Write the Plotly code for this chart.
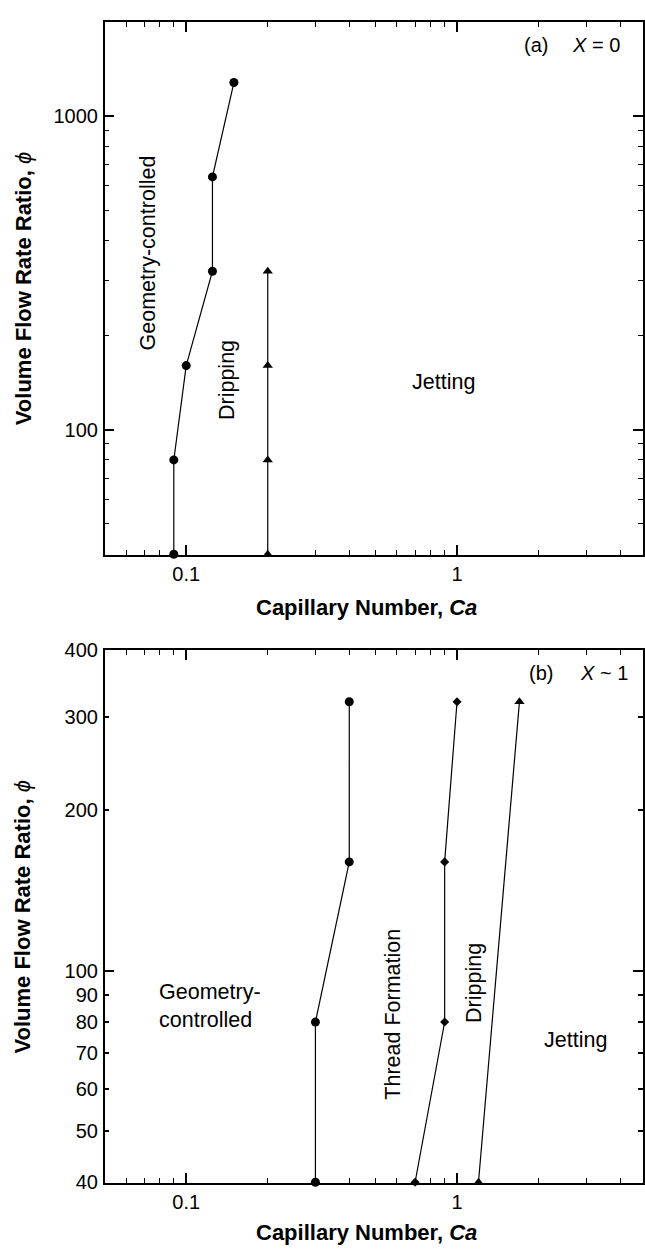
import numpy as np
import plotly.graph_objects as go

# ---------------- data ----------------
# panel (a)  X = 0
a_geo_ca = [0.09, 0.09, 0.1, 0.125, 0.125, 0.15]
a_geo_phi = [40, 80, 160, 320, 640, 1280]
a_jet_ca = [0.2, 0.2, 0.2, 0.2]
a_jet_phi = [40, 80, 160, 320]

# panel (b)  X ~ 1
b_geo_ca = [0.3, 0.3, 0.4, 0.4]
b_geo_phi = [40, 80, 160, 320]
b_thr_ca = [0.7, 0.9, 0.9, 1.0]
b_thr_phi = [40, 80, 160, 320]
b_jet_ca = [1.2, 1.7]
b_jet_phi = [40, 320]

x_major = [0.1, 1]
x_major_text = ["0.1", "1"]
x_minor = [0.06, 0.07, 0.08, 0.09, 0.2, 0.3, 0.4, 0.5, 0.6, 0.7, 0.8, 0.9, 2, 3, 4]
ya_major = [100, 1000]
ya_major_text = ["100", "1000"]
ya_minor = [50, 60, 70, 80, 90, 200, 300, 400, 500, 600, 700, 800, 900]
yb_major = [40, 50, 60, 70, 80, 90, 100, 200, 300, 400]
yb_major_text = ["40", "50", "60", "70", "80", "90", "100", "200", "300", "400"]
yb_long = [100]

# ---------------- layout geometry ----------------
W, H = 645, 1255
FONT = "Liberation Sans, Arial, Helvetica, sans-serif"
EPS = 0.0015  # tiny padding so edge markers stay drawn


def px(x):
    return x / W


def py(y):
    return 1 - y / H


fig = go.Figure()

line = dict(color="black", width=1.2)


def add(xv, yv, sym, size, xa, ya):
    fig.add_trace(go.Scatter(
        x=xv, y=yv, mode="lines+markers", xaxis=xa, yaxis=ya,
        line=line, marker=dict(symbol=sym, size=size, color="black"),
        cliponaxis=False, showlegend=False, hoverinfo="skip"))


add(a_geo_ca, a_geo_phi, "circle", 9, "x", "y")
add(a_jet_ca, a_jet_phi, "triangle-up", 9, "x", "y")
add(b_geo_ca, b_geo_phi, "circle", 9, "x2", "y2")
add(b_thr_ca, b_thr_phi, "diamond", 7, "x2", "y2")
add(b_jet_ca, b_jet_phi, "triangle-up", 9, "x2", "y2")

xdom = [px(105), 1.0]
xrange = [np.log10(0.05), np.log10(4.86)]

common_x = dict(
    type="log", range=xrange, domain=xdom,
    tickmode="array", tickvals=x_major, ticktext=x_major_text,
    ticks="inside", ticklen=10, tickwidth=1.5, tickcolor="black",
    minor=dict(tickmode="array", tickvals=x_minor, ticks="inside",
               ticklen=5, tickwidth=1, tickcolor="black", showgrid=False),
    showline=True, linewidth=2, linecolor="black", mirror="ticks",
    showgrid=False, zeroline=False,
    tickfont=dict(family=FONT, size=20, color="black"),
    ticklabelstandoff=0,
)

common_y = dict(
    type="log",
    ticks="inside", tickwidth=1.5, tickcolor="black",
    showline=True, linewidth=1.5, linecolor="black", mirror="ticks",
    showgrid=False, zeroline=False,
    tickfont=dict(family=FONT, size=20, color="black"),
    ticklabelstandoff=1,
)

fig.update_layout(
    width=W, height=H,
    margin=dict(l=0, r=0, t=0, b=0),
    paper_bgcolor="white", plot_bgcolor="white",
    font=dict(family=FONT, color="black"),
    xaxis=dict(anchor="y", **common_x),
    xaxis2=dict(anchor="y2", **common_x),
    yaxis=dict(anchor="x", domain=[py(553), py(11)],
               range=[np.log10(40) - EPS, np.log10(2000)],
               tickmode="array", tickvals=ya_major, ticktext=ya_major_text,
               ticklen=10,
               minor=dict(tickmode="array", tickvals=ya_minor, ticks="inside",
                          ticklen=5, tickwidth=1, tickcolor="black", showgrid=False),
               **common_y),
    yaxis2=dict(anchor="x2", domain=[py(1192), py(650)],
                range=[np.log10(40) - EPS, np.log10(400)],
                tickmode="array", tickvals=yb_major, ticktext=yb_major_text,
                ticklen=5,
                minor=dict(tickmode="array", tickvals=yb_long, ticks="inside",
                           ticklen=10, tickwidth=1.5, tickcolor="black", showgrid=False),
                **common_y),
)

ann = []


def txt(text, x, y, size=21, angle=0, xanchor="center", align="center"):
    ann.append(dict(text=text, x=px(x), y=py(y), xref="paper", yref="paper",
                    showarrow=False, textangle=angle, xanchor=xanchor,
                    yanchor="middle", align=align,
                    font=dict(family=FONT, size=size, color="black")))


# axis titles
ytitle = "<b>Volume Flow Rate Ratio, </b><i>ϕ</i>"
xtitle = "<b>Capillary Number, <i>Ca</i></b>"
txt(ytitle, 23, 282, size=22, angle=-90)
txt(ytitle, 23, 921, size=22, angle=-90)
txt(xtitle, 368, 607, size=22)
txt(xtitle, 368, 1242, size=22)

# panel (a) labels
txt("(a)", 538, 35, size=20)
txt("<i>X</i> = 0", 598, 35, size=20)
txt("Geometry-controlled", 148, 246, size=21.5, angle=-90)
txt("Dripping", 227, 375, size=21.5, angle=-90)
txt("Jetting", 445, 377, size=21.5)

# panel (b) labels
txt("(b)", 543, 673, size=20)
txt("<i>X</i> ~ 1", 606, 673, size=20)
txt("Geometry-<br>controlled", 157, 1012, size=21.5, xanchor="left", align="left")
txt("Thread Formation", 394, 1020, size=21.5, angle=-90)
txt("Dripping", 476, 989, size=21.5, angle=-90)
txt("Jetting", 577, 1047, size=21.5)

fig.update_layout(annotations=ann)

fig.write_html("out.html")
